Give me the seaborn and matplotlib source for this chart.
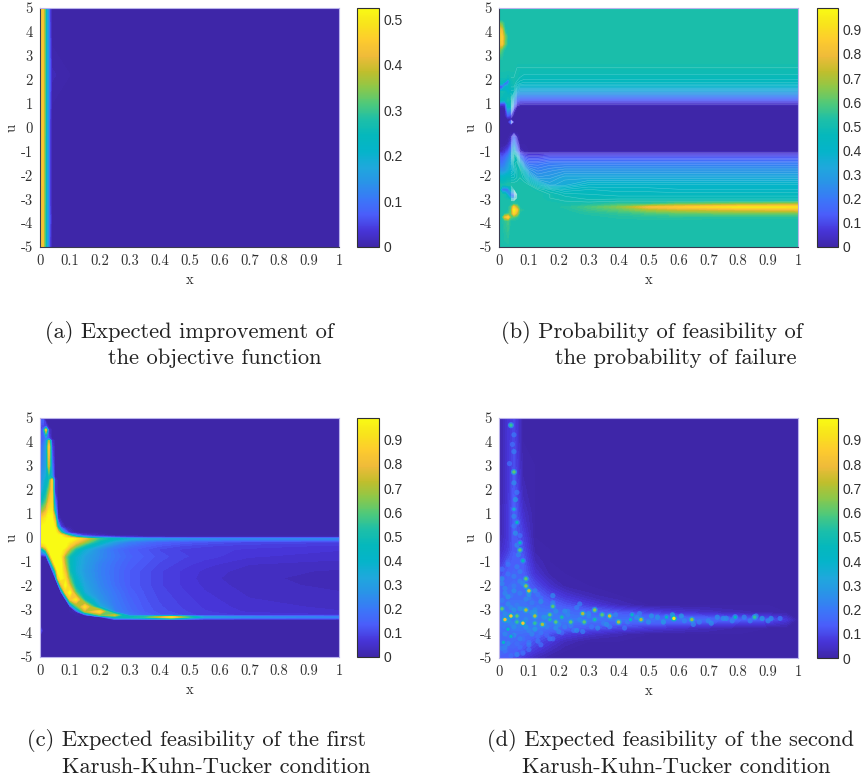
import numpy as np
import pandas as pd
import matplotlib
matplotlib.use("Agg")
import matplotlib.pyplot as plt
from matplotlib.colors import LinearSegmentedColormap, Normalize
from matplotlib.cm import ScalarMappable
import seaborn as sns

sns.set_theme(style="white")
SERIF = ["cmr10", "Liberation Serif"]

PARULA = ["#3e26a8", "#4735d8", "#4a5dfa", "#3a78f8", "#2a93e8", "#1fa8dc", "#05b4ca", "#05b8bc",
          "#1dbfa8", "#4fc97a", "#8cc84a", "#c0be2c", "#efbb3a", "#fdcb2e", "#f8e31c", "#f9fa14"]
parula = LinearSegmentedColormap.from_list("parula", PARULA, N=256)

# ---- panel (a)
xa = [0, .004, .01, .015, .02, .025, .03, .034, .04, .1, 1]
ua = [-5, -3.8, -3, 0, 1, 2.2, 3.4, 5]
za = [[.40, .45, .43, .32, .28, .18, .10, .03, 0, 0, 0],
      [.40, .45, .43, .32, .28, .18, .10, .05, 0, 0, 0],
      [.40, .45, .43, .33, .28, .18, .10, .03, 0, 0, 0],
      [.41, .45, .44, .34, .28, .18, .10, .03, 0, 0, 0],
      [.41, .45, .44, .35, .28, .18, .11, .05, 0, 0, 0],
      [.41, .45, .44, .35, .28, .18, .11, .06, .01, 0, 0],
      [.41, .45, .44, .35, .28, .18, .11, .05, 0, 0, 0],
      [.41, .45, .44, .34, .28, .18, .10, .03, 0, 0, 0]]

# ---- panel (b)
xb = [0, .01, .02, .03, .04, .05, .06, .07, .085, .1, .13, .17, .22, .3, .4, .5, .6, .8, 1]
ub = [-5, -3.9, -3.75, -3.6, -3.45, -3.33, -3.2, -3.08, -2.95, -2.8, -2.6, -2.4, -2.1, -1.8, -1.5, -1.25, -1.1, -1,
      -.7, -.4, -.2, .12, .23, .34, .5, .75, .9, 1, 1.15, 1.3, 1.5, 1.7, 1.85, 1.95, 2.1, 2.5, 2.8, 3.25, 3.5, 3.8, 4.1, 4.35, 4.5, 5]
zb = [[.52]*19,
      [.52, .52, .55, .58, .52, .52, .52, .52, .52, .52, .52, .52, .52, .52, .52, .52, .52, .52, .52],
      [.52, .52, .78, .88, .6, .58, .55, .52, .52, .52, .52, .52, .52, .52, .53, .54, .54, .53, .53],
      [.52, .52, .52, .55, .62, .88, .72, .52, .52, .52, .52, .52, .52, .53, .55, .58, .6, .62, .62],
      [.52, .52, .52, .52, .6, .95, .82, .55, .52, .52, .52, .52, .52, .56, .6, .68, .72, .75, .78],
      [.52, .52, .52, .52, .58, .85, .68, .52, .52, .52, .52, .52, .53, .58, .65, .8, .85, .93, .92],
      [.52, .52, .52, .52, .52, .55, .53, .52, .52, .52, .52, .52, .51, .52, .56, .56, .62, .66, .7],
      [.52, .52, .52, .52, .52, .52, .52, .52, .52, .52, .52, .51, .5, .49, .5, .5, .5, .5, .5],
      [.52, .52, .5, .48, .3, .25, .5, .52, .52, .52, .52, .5, .49, .47, .47, .47, .47, .47, .47],
      [.52, .52, .5, .3, .18, .12, .5, .52, .52, .52, .52, .5, .47, .46, .45, .45, .45, .45, .45],
      [.52, .2, .15, .2, .4, .5, .52, .52, .52, .52, .5, .46, .42, .44, .43, .43, .42, .42, .42],
      [.52, .5, .5, .52, .52, .52, .52, .52, .52, .5, .42, .33, .35, .4, .4, .4, .4, .4, .4],
      [.42, .42, .44, .46, .46, .46, .48, .5, .47, .38, .28, .29, .33, .33, .33, .33, .33, .33, .33],
      [.28, .26, .28, .33, .38, .42, .48, .5, .38, .27, .23, .25, .27, .27, .27, .27, .27, .27, .27],
      [.2, .18, .22, .28, .35, .47, .5, .38, .22, .18, .18, .2, .2, .2, .2, .2, .2, .2, .2],
      [.14, .12, .16, .22, .3, .5, .44, .22, .12, .1, .1, .12, .12, .12, .12, .12, .12, .12, .12],
      [.1, .08, .1, .16, .28, .46, .3, .12, .06, .05, .05, .06, .06, .06, .06, .06, .06, .06, .06],
      [.02, .03, .06, .12, .22, .38, .2, .04, .01, 0, 0, 0, 0, 0, 0, 0, 0, 0, 0],
      [0, 0, 0, .02, .1, .25, .1, 0, 0, 0, 0, 0, 0, 0, 0, 0, 0, 0, 0],
      [0, 0, 0, 0, .03, .15, .03, 0, 0, 0, 0, 0, 0, 0, 0, 0, 0, 0, 0],
      [0]*19,
      [0]*19,
      [0, 0, 0, 0, .18, 0, 0, 0, 0, 0, 0, 0, 0, 0, 0, 0, 0, 0, 0],
      [0]*19,
      [0, 0, 0, .12, .08, 0, 0, 0, 0, 0, 0, 0, 0, 0, 0, 0, 0, 0, 0],
      [0, 0, 0, .3, .28, .05, 0, 0, 0, 0, 0, 0, 0, 0, 0, 0, 0, 0, 0],
      [.05, .02, .05, .42, .42, .15, .03, .01, .01, .01, .01, .01, .01, .01, .01, .01, .01, .01, .01],
      [.15, .1, .12, .46, .47, .22, .08, .05, .04, .04, .04, .04, .04, .04, .04, .04, .04, .04, .04],
      [.48, .45, .45, .5, .48, .28, .15, .12, .12, .12, .12, .12, .12, .12, .12, .12, .12, .12, .12],
      [.5, .48, .48, .48, .48, .35, .22, .2, .2, .2, .2, .2, .2, .2, .2, .2, .2, .2, .2],
      [.48, .5, .48, .42, .45, .45, .33, .3, .3, .3, .3, .3, .3, .3, .3, .3, .3, .3, .3],
      [.04, .06, .36, .42, .48, .48, .42, .38, .38, .38, .38, .38, .38, .38, .38, .38, .38, .38, .38],
      [.46, .46, .08, .24, .48, .5, .46, .44, .43, .43, .43, .43, .43, .43, .43, .43, .43, .43, .43],
      [.48, .48, .46, .12, .48, .5, .48, .46, .45, .45, .45, .45, .45, .45, .45, .45, .45, .45, .45],
      [.5, .5, .5, .48, .5, .5, .5, .48, .47, .47, .47, .47, .47, .47, .47, .47, .47, .47, .47],
      [.52, .52, .52, .52, .52, .52, .5, .5, .5, .5, .5, .5, .5, .5, .5, .5, .5, .5, .5],
      [.52]*19,
      [.66, .58, .52, .52, .52, .52, .52, .52, .52, .52, .52, .52, .52, .52, .52, .52, .52, .52, .52],
      [.84, .84, .62, .52, .52, .52, .52, .52, .52, .52, .52, .52, .52, .52, .52, .52, .52, .52, .52],
      [.86, .86, .64, .52, .52, .52, .52, .52, .52, .52, .52, .52, .52, .52, .52, .52, .52, .52, .52],
      [.84, .76, .53, .52, .52, .52, .52, .52, .52, .52, .52, .52, .52, .52, .52, .52, .52, .52, .52],
      [.66, .6, .52, .52, .52, .52, .52, .52, .52, .52, .52, .52, .52, .52, .52, .52, .52, .52, .52],
      [.52]*19,
      [.52]*19]

# ---- panel (c)
xc = [0, .01, .02, .03, .04, .05, .06, .07, .085, .1, .12, .15, .2, .25, .3, .35, .4, .44, .48, .55, .7, 1]
uc = [-5, -4.15, -3.9, -3.65, -3.45, -3.33, -3.25, -3.1, -2.9, -2.6, -2.3, -2, -1.7, -1.4, -1.1, -.8, -.5, -.35, -.18, -.05, .01,
      .08, .2, .45, .8, 1.1, 1.5, 2, 2.4, 2.55, 3, 3.8, 4.05, 4.15, 4.5, 4.65, 4.9, 5]
zc = [[0]*22,
      [0]*22,
      [.14] + [0]*21,
      [0]*22,
      [0]*22,
      [0, 0, 0, 0, 0, 0, 0, 0, 0, 0, 0, 0, 0, .45, .48, .55, .75, .92, .65, .3, .25, .22],
      [0, 0, 0, 0, 0, 0, 0, 0, 0, 0, 0, 0, .6, .75, .2, .15, .12, .12, .1, .08, .07, .06],
      [0, 0, 0, 0, 0, 0, 0, 0, 0, 0, .02, .7, .92, .22, .17, .13, .11, .1, .09, .075, .055, .045],
      [0, 0, 0, 0, 0, 0, 0, 0, 0, 0, .55, .92, .34, .21, .16, .125, .105, .095, .085, .07, .05, .04],
      [0, 0, 0, 0, 0, 0, 0, 0, 0, .8, .95, .48, .27, .2, .15, .12, .1, .09, .08, .065, .045, .035],
      [0, 0, 0, 0, 0, 0, 0, 0, .85, 1, .6, .34, .25, .19, .14, .115, .095, .085, .075, .06, .04, .03],
      [0, 0, 0, 0, 0, 0, 0, .75, 1, .75, .45, .32, .235, .175, .13, .11, .09, .08, .07, .055, .035, .025],
      [0, 0, 0, 0, 0, 0, .8, 1, .9, .6, .4, .3, .225, .17, .13, .11, .09, .08, .07, .05, .033, .023],
      [0, 0, 0, 0, 0, .5, 1, 1, .8, .5, .36, .29, .22, .17, .13, .11, .09, .08, .07, .055, .035, .027],
      [0, 0, 0, 0, .55, 1, 1, 1, .7, .48, .37, .3, .225, .175, .14, .12, .1, .09, .08, .065, .045, .037],
      [0, 0, .02, .6, 1, 1, 1, .95, .65, .48, .38, .31, .245, .19, .15, .13, .11, .1, .09, .08, .06, .05],
      [.35, .45, .7, 1, 1, 1, 1, 1, .9, .7, .5, .36, .25, .18, .14, .12, .1, .09, .085, .08, .07, .06],
      [.8, .85, .95, 1, 1, 1, 1, 1, 1, .85, .68, .5, .32, .22, .17, .14, .12, .11, .1, .09, .08, .07],
      [1, 1, 1, 1, 1, 1, 1, 1, 1, .95, .85, .7, .45, .3, .22, .18, .15, .14, .13, .12, .1, .09],
      [1, 1, 1, 1, 1, 1, 1, 1, 1, 1, .95, .8, .55, .42, .35, .3, .28, .27, .26, .25, .24, .24],
      [1, 1, 1, 1, 1, 1, 1, 1, .9, .8, .6, .35, .2, .12, .08, .05, .04, .03, .03, .02, .02, .02],
      [1, 1, 1, 1, 1, 1, 1, 1, .8, .55, .25, .08, .03, 0, 0, 0, 0, 0, 0, 0, 0, 0],
      [1, 1, 1, 1, 1, 1, .9, .6, .2, .05, 0, 0, 0, 0, 0, 0, 0, 0, 0, 0, 0, 0],
      [.95, 1, 1, 1, 1, .95, .4, .08, 0, 0, 0, 0, 0, 0, 0, 0, 0, 0, 0, 0, 0, 0],
      [.9, .9, .95, 1, 1, .75, .05, 0, 0, 0, 0, 0, 0, 0, 0, 0, 0, 0, 0, 0, 0, 0],
      [.65, .7, .8, .95, .95, .4, 0, 0, 0, 0, 0, 0, 0, 0, 0, 0, 0, 0, 0, 0, 0, 0],
      [.45, .5, .6, .82, .9, .2, 0, 0, 0, 0, 0, 0, 0, 0, 0, 0, 0, 0, 0, 0, 0, 0],
      [.3, .35, .45, .65, .85, .05, 0, 0, 0, 0, 0, 0, 0, 0, 0, 0, 0, 0, 0, 0, 0, 0],
      [.25, .3, .4, .5, .85, .05, 0, 0, 0, 0, 0, 0, 0, 0, 0, 0, 0, 0, 0, 0, 0, 0],
      [.25, .3, .35, .5, .3, 0, 0, 0, 0, 0, 0, 0, 0, 0, 0, 0, 0, 0, 0, 0, 0, 0],
      [.2, .25, .3, .75, .2, 0, 0, 0, 0, 0, 0, 0, 0, 0, 0, 0, 0, 0, 0, 0, 0, 0],
      [.15, .2, .3, .85, .1, 0, 0, 0, 0, 0, 0, 0, 0, 0, 0, 0, 0, 0, 0, 0, 0, 0],
      [.12, .15, .25, .7, .05, 0, 0, 0, 0, 0, 0, 0, 0, 0, 0, 0, 0, 0, 0, 0, 0, 0],
      [.1, .15, .2, .1, 0, 0, 0, 0, 0, 0, 0, 0, 0, 0, 0, 0, 0, 0, 0, 0, 0, 0],
      [.08, .15, .8, .05, 0, 0, 0, 0, 0, 0, 0, 0, 0, 0, 0, 0, 0, 0, 0, 0, 0, 0],
      [.1, .1, .1, 0, 0, 0, 0, 0, 0, 0, 0, 0, 0, 0, 0, 0, 0, 0, 0, 0, 0, 0],
      [.15, .15, 0, 0, 0, 0, 0, 0, 0, 0, 0, 0, 0, 0, 0, 0, 0, 0, 0, 0, 0, 0],
      [0]*22]

# ---- panel (d)
xd = [0, .03, .05, .08, .12, .17, .22, .3, .4, .5, .6, .7, .8, .9, .96, 1]
ud = [-5, -4.7, -4.3, -4, -3.75, -3.4, -3.1, -2.8, -2.4, -2, -1.5, -1, -.5, 0, 1, 2, 3, 4, 5]
zd = [[.14, .13, .11, .07, .03, 0, 0, 0, 0, 0, 0, 0, 0, 0, 0, 0],
      [.16, .15, .14, .11, .07, .03, 0, 0, 0, 0, 0, 0, 0, 0, 0, 0],
      [.17, .17, .16, .15, .11, .07, .03, 0, 0, 0, 0, 0, 0, 0, 0, 0],
      [.17, .18, .18, .17, .15, .11, .08, .05, .02, 0, 0, 0, 0, 0, 0, 0],
      [.18, .2, .2, .2, .2, .17, .15, .12, .09, .07, .05, .03, .01, 0, 0, 0],
      [.2, .2, .2, .2, .2, .2, .2, .19, .18, .18, .18, .16, .14, .12, .07, 0],
      [.18, .19, .19, .19, .19, .19, .17, .15, .12, .09, .06, .04, .02, .01, 0, 0],
      [.16, .18, .18, .18, .17, .15, .12, .08, .03, 0, 0, 0, 0, 0, 0, 0],
      [.15, .17, .17, .17, .15, .1, .06, .02, 0, 0, 0, 0, 0, 0, 0, 0],
      [.14, .16, .17, .16, .11, .05, .01, 0, 0, 0, 0, 0, 0, 0, 0, 0],
      [.1, .14, .15, .14, .06, .01, 0, 0, 0, 0, 0, 0, 0, 0, 0, 0],
      [.06, .12, .14, .13, .03, 0, 0, 0, 0, 0, 0, 0, 0, 0, 0, 0],
      [.03, .08, .13, .11, .01, 0, 0, 0, 0, 0, 0, 0, 0, 0, 0, 0],
      [.01, .07, .13, .09, 0, 0, 0, 0, 0, 0, 0, 0, 0, 0, 0, 0],
      [0, .07, .14, .05, 0, 0, 0, 0, 0, 0, 0, 0, 0, 0, 0, 0],
      [0, .06, .13, .02, 0, 0, 0, 0, 0, 0, 0, 0, 0, 0, 0, 0],
      [0, .06, .11, .01, 0, 0, 0, 0, 0, 0, 0, 0, 0, 0, 0, 0],
      [0, .06, .1, 0, 0, 0, 0, 0, 0, 0, 0, 0, 0, 0, 0, 0],
      [0, .06, .09, 0, 0, 0, 0, 0, 0, 0, 0, 0, 0, 0, 0, 0]]

hot_x = [.04, .05, .05, .06, .07, .07, .08, .09, .09, .1, .09, .18, .01, .02, .04, .06, .06, .08, .12, .12, .145, .17,
         .17, .19, .21, .24, .28, .285, .32, .32, .345, .37, .4, .44, .445, .475, .585, .645, .79, .855, .04, .015, .03, .56]
hot_u = [4.7, 2.75, 1.2, .65, -.2, -.5, -.95, -1.7, -2, -2.2, -3, -2.85, -2.95, -3.4, -3.25, -3.25, -3.5, -3.55, -3.25, -3.55,
         -3.6, -3.2, -3.4, -3.5, -3.3, -3.5, -3.15, -3.5, -3, -3.4, -3.2, -3.25, -3.5, -3.4, -3.2, -3.4, -3.35, -3.4, -3.3, -3.3,
         -4.1, -4.35, -3.8, -3.3]
hot_v = [.55, .6, .35, .4, .4, .6, .45, .6, .65, .75, .7, .6, .6, .8, .85, .6, .55, .85, .7, .55, .7, .6, .5, .6, .5, .6,
         .7, .6, .65, .5, .6, .75, .7, .4, .4, .7, .95, .65, .45, .55, .4, .4, .4, .4]

blob_x = [.05, .05, .05, .055, .05, .055, .06, .065, .06, .07, .03, .05, .02, .04, .08, .1, .06, .03, .07, .12, .11, .14,
          .09, .13, .05, .02, .1, .16, .14, .08, .2, .23, .19, .26, .22, .31, .27, .35, .3, .39, .43, .47, .5, .53, .55,
          .58, .61, .62, .67, .7, .73, .76, .78, .82, .84, .88, .91, .94, .1, .07, .13, .16, .21, .04, .08, .03, .12, .18, .06, .02,
          .01, .03, .05, .07, .01, .04, .08, .11, .02, .05, .09, .12, .15, .02, .05, .1, .13, .17, .2, .25, .03, .07, .11, .15,
          .19, .24, .28, .33, .37, .42, .02, .06, .1, .14, .18, .23, .27, .01, .05, .09, .13, .01, .04, .07, .02, .06,
          .01, .04, .08, .03, .06, .1, .14, .18, .03, .07, .12, .16, .22, .26, .3, .36, .46, .51, .65, .71, .75, .86, .9, .045, .035, .06, .05, .07]
blob_u = [4.3, 3.6, 2.3, 1.6, .9, .2, -.3, -.7, -1.2, -1.4, -1.5, -2, -2.1, -2.4, -1.9, -2.5, -2.8, -2.75, -2.3, -2.2, -2.7,
          -2.5, -3.4, -2.9, -3.7, -3.7, -3.85, -3.7, -3.95, -4.2, -3.6, -3.2, -3.05, -2.9, -3.7, -3.7, -3.4, -3.55, -3.25,
          -3.2, -3.5, -3.15, -3.5, -3.3, -3.5, -3.2, -3.25, -3.45, -3.5, -3.45, -3.3, -3.35, -3.45, -3.3, -3.45, -3.35, -3.35,
          -3.35, -4.35, -4.55, -4.1, -4.05, -3.95, -4.7, -4.75, -1, -3, -2.7, -4.4, -2.3,
          -1.3, -1.1, -1.6, -1.8, -2.6, -2.9, -2.95, -3.1, -3.15, -3, -3.7, -3.8, -3.3, -4, -4.05, -4.45, -4.3, -4.2, -3.9, -3.85, -4.4, -4.2, -4, -3.6,
          -3.75, -3.65, -3.9, -3.75, -3.7, -3.75, -4.7, -4.85, -4.65, -4.45, -4.2, -3.05, -2.75, -1.9, -2.2, -2.55, -2.35, -1.7, -3.55, -3.65, -4.55, -4.85,
          -4.6, -4.9, -4.8, -3.45, -3.45, -2.35, -2.65, -2.4, -2.45, -2.95, -3.1, -3.3, -3.05, -3.85, -3.15, -3.6, -3.3, -3.25, -3.6, -3.55, -3.35, -3.25, -3.45, 3.9, 3.1, 1.9, .5, .1]
blob_v = [.2, .22, .25, .28, .24, .26, .25, .24, .22, .22, .2, .22, .24, .2, .26, .22, .22, .24, .22, .24, .22, .18, .25, .2,
          .26, .22, .24, .22, .2, .18, .24, .24, .26, .22, .22, .2, .24, .22, .24, .24, .22, .22, .26, .28, .3, .34, .3, .24,
          .22, .24, .26, .26, .24, .24, .22, .3, .26, .2, .2, .18, .18, .16, .16, .14, .14, .16, .26, .24, .18, .24,
          .18, .2, .22, .24, .22, .24, .24, .28, .26, .28, .28, .3, .28, .24, .26, .22, .2, .2, .24, .2, .24, .22, .24, .26,
          .26, .22, .22, .24, .22, .2, .2, .18, .18, .18, .18, .22, .22, .24, .26, .24, .2, .26, .24, .22, .24, .22,
          .22, .18, .18, .28, .3, .28, .26, .24, .28, .28, .28, .28, .26, .26, .26, .26, .28, .28, .24, .26, .26, .24, .24, .18, .18, .2, .2, .18]

x_ticks = [0, .1, .2, .3, .4, .5, .6, .7, .8, .9, 1]
x_tick_labels = ["0", "0.1", "0.2", "0.3", "0.4", "0.5", "0.6", "0.7", "0.8", "0.9", "1"]
u_ticks = [-5, -4, -3, -2, -1, 0, 1, 2, 3, 4, 5]
u_tick_labels = ["-5", "-4", "-3", "-2", "-1", "0", "1", "2", "3", "4", "5"]

W, H = 866, 782
fig = plt.figure(figsize=(W / 100, H / 100), dpi=100, facecolor="white")


def rect(l, t, r, b):
    return [l / W, 1 - b / H, (r - l) / W, (b - t) / H]


def panel(box, cbox, x, u, z, vmax, cticks, clabels, lines=False, dark_frame=False):
    ax = fig.add_axes(rect(*box))
    z = np.array(z, dtype=float)
    norm = Normalize(0, vmax)
    ax.contourf(x, u, z, levels=np.linspace(0, vmax * 1.02, 70), cmap=parula, norm=norm, extend="both")
    if lines:
        ax.contour(x[4:], u, z[:, 4:], levels=np.linspace(.03, .5, 24), colors="white", linewidths=.35, alpha=.3)
    ax.set_xlim(0, 1)
    ax.set_ylim(-5, 5)
    ax.set_xticks(x_ticks, x_tick_labels, family=SERIF, fontsize=10.5)
    ax.set_yticks(u_ticks, u_tick_labels, family=SERIF, fontsize=10.5)
    ax.tick_params(length=0, pad=5, colors="#303030")
    ax.set_xlabel("x", family=SERIF, fontsize=10.5, labelpad=4, color="#303030")
    ax.set_ylabel("u", family=SERIF, fontsize=10.5, color="#303030")
    ax.yaxis.set_label_coords(-21 / 299, .5)
    for name, s in ax.spines.items():
        s.set_color("#b9b2ec")
        s.set_linewidth(.8)
        if dark_frame and name in ("left", "bottom"):
            s.set_color("#3a3a50")
    cax = fig.add_axes(rect(*cbox))
    cb = fig.colorbar(ScalarMappable(norm=norm, cmap=parula), cax=cax)
    cb.set_ticks(cticks, labels=clabels)
    cb.ax.tick_params(labelsize=10, length=2.5, direction="in", width=.6, pad=3, colors="#303030")
    for lab in cb.ax.get_yticklabels():
        lab.set_family("Liberation Sans")
    cb.outline.set_edgecolor("#303030")
    cb.outline.set_linewidth(.8)
    return ax


c_05 = [0, .1, .2, .3, .4, .5]
c_09 = [0, .1, .2, .3, .4, .5, .6, .7, .8, .9]
l_05 = ["0", "0.1", "0.2", "0.3", "0.4", "0.5"]
l_09 = ["0", "0.1", "0.2", "0.3", "0.4", "0.5", "0.6", "0.7", "0.8", "0.9"]

panel((40, 8, 339, 247), (357, 8, 379, 247), xa, ua, za, .525, c_05, l_05, dark_frame=True)
panel((499, 8, 798, 247), (817, 8, 838, 247), xb, ub, zb, .99, c_09, l_09, lines=True, dark_frame=True)
panel((40, 418, 339, 657), (357, 418, 379, 657), xc, uc, zc, .99, c_09, l_09)
ax_d = panel((499, 418, 798, 658), (817, 418, 838, 658), xd, ud, zd, .99, c_09, l_09)

blobs = pd.DataFrame({"x": blob_x, "u": blob_u, "v": blob_v})
hots = pd.DataFrame({"x": hot_x, "u": hot_u, "v": hot_v})
dnorm = Normalize(0, .99)
sns.scatterplot(data=blobs, x="x", y="u", hue="v", palette=parula, hue_norm=dnorm, s=14, linewidth=0, alpha=.75,
                legend=False, ax=ax_d)
sns.scatterplot(data=hots, x="x", y="u", hue="v", palette=parula, hue_norm=Normalize(0, 2.2), s=20, linewidth=0, alpha=.85,
                legend=False, ax=ax_d)
sns.scatterplot(data=hots, x="x", y="u", hue="v", palette=parula, hue_norm=dnorm, s=6, linewidth=0,
                legend=False, ax=ax_d)
ax_d.set_xlabel("x", family=SERIF, fontsize=10.5, labelpad=4, color="#303030")
ax_d.set_ylabel("u", family=SERIF, fontsize=10.5, color="#303030")
ax_d.yaxis.set_label_coords(-21 / 299, .5)

captions = [(45, 333, "(a) Expected improvement of"), (108, 358, "the objective function"),
            (501, 333, "(b) Probability of feasibility of"), (555, 358, "the probability of failure"),
            (27, 741, "(c) Expected feasibility of the first"), (62, 767, "Karush-Kuhn-Tucker condition"),
            (487, 741, "(d) Expected feasibility of the second"), (522, 767, "Karush-Kuhn-Tucker condition")]
for px, py, txt in captions:
    fig.text(px / W, 1 - py / H, txt, family=SERIF, fontsize=16.2, ha="left", va="center", color="#222222")

fig.savefig("out.png", dpi=100)
